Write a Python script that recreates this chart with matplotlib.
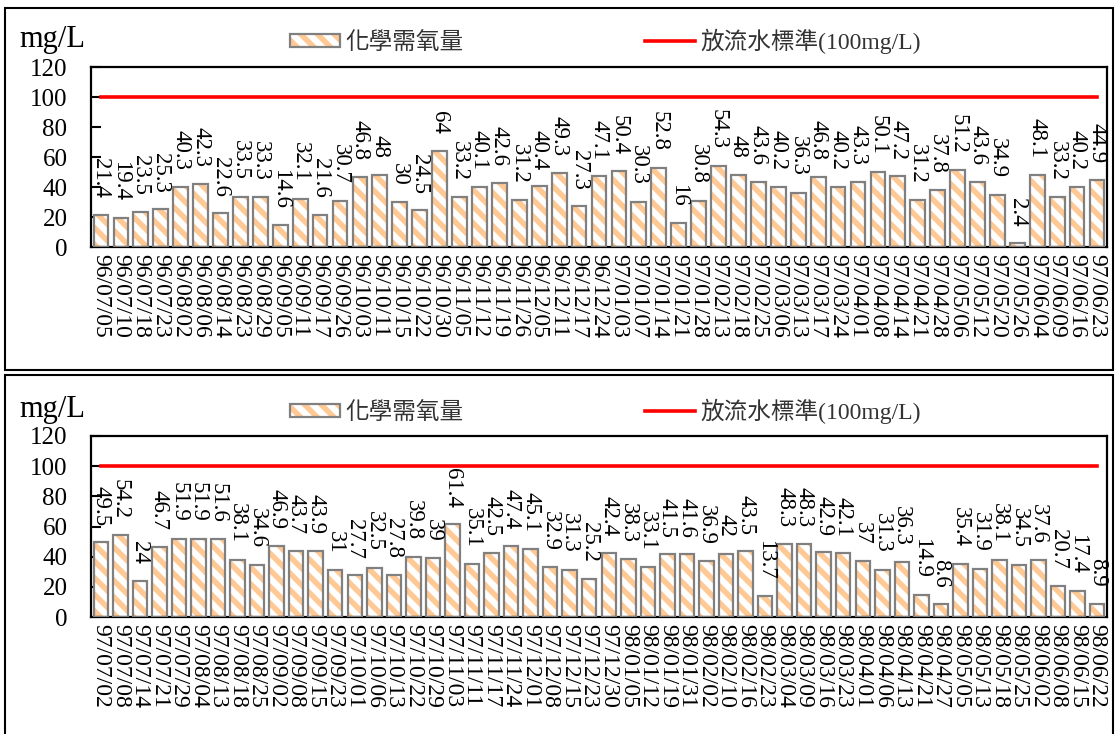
import matplotlib
matplotlib.use('Agg')
import matplotlib.pyplot as plt
from matplotlib.patches import Rectangle, Patch
from matplotlib.lines import Line2D
import numpy as np

# ---- data -------------------------------------------------------------
dates_1 = ['96/07/05', '96/07/10', '96/07/18', '96/07/23', '96/08/02', '96/08/06',
           '96/08/14', '96/08/23', '96/08/29', '96/09/05', '96/09/11', '96/09/17',
           '96/09/26', '96/10/03', '96/10/11', '96/10/15', '96/10/22', '96/10/30',
           '96/11/05', '96/11/12', '96/11/19', '96/11/26', '96/12/05', '96/12/11',
           '96/12/17', '96/12/24', '97/01/03', '97/01/07', '97/01/14', '97/01/21',
           '97/01/28', '97/02/13', '97/02/18', '97/02/25', '97/03/06', '97/03/13',
           '97/03/17', '97/03/24', '97/04/01', '97/04/08', '97/04/14', '97/04/21',
           '97/04/28', '97/05/06', '97/05/12', '97/05/20', '97/05/26', '97/06/04',
           '97/06/09', '97/06/16', '97/06/23']
cod_1 = [21.4, 19.4, 23.5, 25.3, 40.3, 42.3, 22.6, 33.5, 33.3, 14.6, 32.1, 21.6,
         30.7, 46.8, 48, 30, 24.5, 64, 33.2, 40.1, 42.6, 31.2, 40.4, 49.3,
         27.3, 47.1, 50.4, 30.3, 52.8, 16, 30.8, 54.3, 48, 43.6, 40.2, 36.3,
         46.8, 40.2, 43.3, 50.1, 47.2, 31.2, 37.8, 51.2, 43.6, 34.9, 2.4, 48.1,
         33.2, 40.2, 44.9]

dates_2 = ['97/07/02', '97/07/08', '97/07/14', '97/07/21', '97/07/29', '97/08/04',
           '97/08/13', '97/08/18', '97/08/25', '97/09/02', '97/09/08', '97/09/15',
           '97/09/23', '97/10/01', '97/10/06', '97/10/13', '97/10/22', '97/10/29',
           '97/11/03', '97/11/11', '97/11/17', '97/11/24', '97/12/01', '97/12/08',
           '97/12/15', '97/12/23', '97/12/30', '98/01/05', '98/01/12', '98/01/19',
           '98/01/31', '98/02/02', '98/02/10', '98/02/16', '98/02/23', '98/03/04',
           '98/03/09', '98/03/16', '98/03/23', '98/04/01', '98/04/06', '98/04/13',
           '98/04/21', '98/04/27', '98/05/05', '98/05/13', '98/05/18', '98/05/25',
           '98/06/02', '98/06/08', '98/06/15', '98/06/22']
cod_2 = [49.5, 54.2, 24, 46.7, 51.9, 51.9, 51.6, 38.1, 34.6, 46.9, 43.7, 43.9,
         31, 27.7, 32.5, 27.8, 39.8, 39, 61.4, 35.1, 42.5, 47.4, 45.1, 32.9,
         31.3, 25.2, 42.4, 38.3, 33.1, 41.5, 41.6, 36.9, 42, 43.5, 13.7, 48.3,
         48.3, 42.9, 42.1, 37, 31.3, 36.3, 14.9, 8.6, 35.4, 31.9, 38.1, 34.5,
         37.6, 20.7, 17.4, 8.9]

limit = 100
bar_name = '化學需氧量'
line_name = '放流水標準(100mg/L)'

# ---- style -------------------------------------------------------------
plt.rcParams['font.family'] = ['Liberation Serif', 'Noto Sans CJK TC']
plt.rcParams['hatch.linewidth'] = 4

W, H = 1115, 734
hatch_col = '#FFC995'
edge_col = '#808080'

fig = plt.figure(figsize=(W / 100., H / 100.), dpi=100)


def fy(y):
    return 1 - y / float(H)


# panel frames
fig.patches.append(Rectangle((5 / W, fy(370)), 1108 / W, (370 - 8) / H,
                             transform=fig.transFigure, fill=False,
                             edgecolor='black', linewidth=1.5))
fig.patches.append(Rectangle((5 / W, fy(745)), 1108 / W, (745 - 375) / H,
                             transform=fig.transFigure, fill=False,
                             edgecolor='black', linewidth=1.5))


def panel(top, bottom, dates, vals, off):
    ax = fig.add_axes([91 / W, fy(bottom), (1107 - 91) / W, (bottom - top) / H])
    x = np.arange(len(vals))
    ax.bar(x, vals, width=0.74, color='white', edgecolor=hatch_col,
           hatch='\\\\', linewidth=0, zorder=2)
    ax.bar(x, vals, width=0.74, fill=False, edgecolor=edge_col,
           linewidth=1.6, zorder=3)
    ax.plot([x[0], x[-1]], [limit, limit], color='#FF0000', linewidth=2.6,
            zorder=4)
    for xi, v in zip(x, vals):
        ax.annotate('{:g}'.format(v), (xi, v), xytext=(0, 12),
                    textcoords='offset points', rotation=270,
                    ha='center', va='bottom', fontsize=16.5)

    ax.set_xlim(-0.5, len(vals) - 0.5)
    ax.set_ylim(0, 120)
    ax.set_yticks(np.arange(0, 121, 20))
    ax.set_xticks(x)
    ax.set_xticklabels(dates, rotation=270, fontsize=17)
    ax.tick_params(axis='x', length=0, pad=5)
    ax.tick_params(axis='y', direction='in', length=7, width=1.5,
                   labelsize=18, pad=17)
    for s in ax.spines.values():
        s.set_linewidth(1.6)
        s.set_color('black')

    fig.text(19 / W, fy(off + 40), 'mg/L', fontsize=22, va='center', ha='left')

    h_bar = (Patch(facecolor='white', edgecolor=hatch_col, hatch='\\\\',
                   linewidth=0),
             Patch(fill=False, edgecolor=edge_col, linewidth=1.6))
    h_line = Line2D([], [], color='#FF0000', linewidth=2.6)
    leg = ax.legend([h_bar, h_line], [bar_name, line_name], ncol=2,
                    loc='center left', bbox_to_anchor=(290 / W, fy(off + 41)),
                    bbox_transform=fig.transFigure, frameon=False,
                    fontsize=17, borderpad=0, borderaxespad=0,
                    handlelength=2.1, handleheight=0.5, handletextpad=0.25,
                    columnspacing=7.7)
    for t in leg.get_texts():
        t.set_color('#333333')
    return ax


panel(67, 247, dates_1, cod_1, 0)
panel(436, 617, dates_2, cod_2, 370)

fig.savefig('out.png', dpi=100)
